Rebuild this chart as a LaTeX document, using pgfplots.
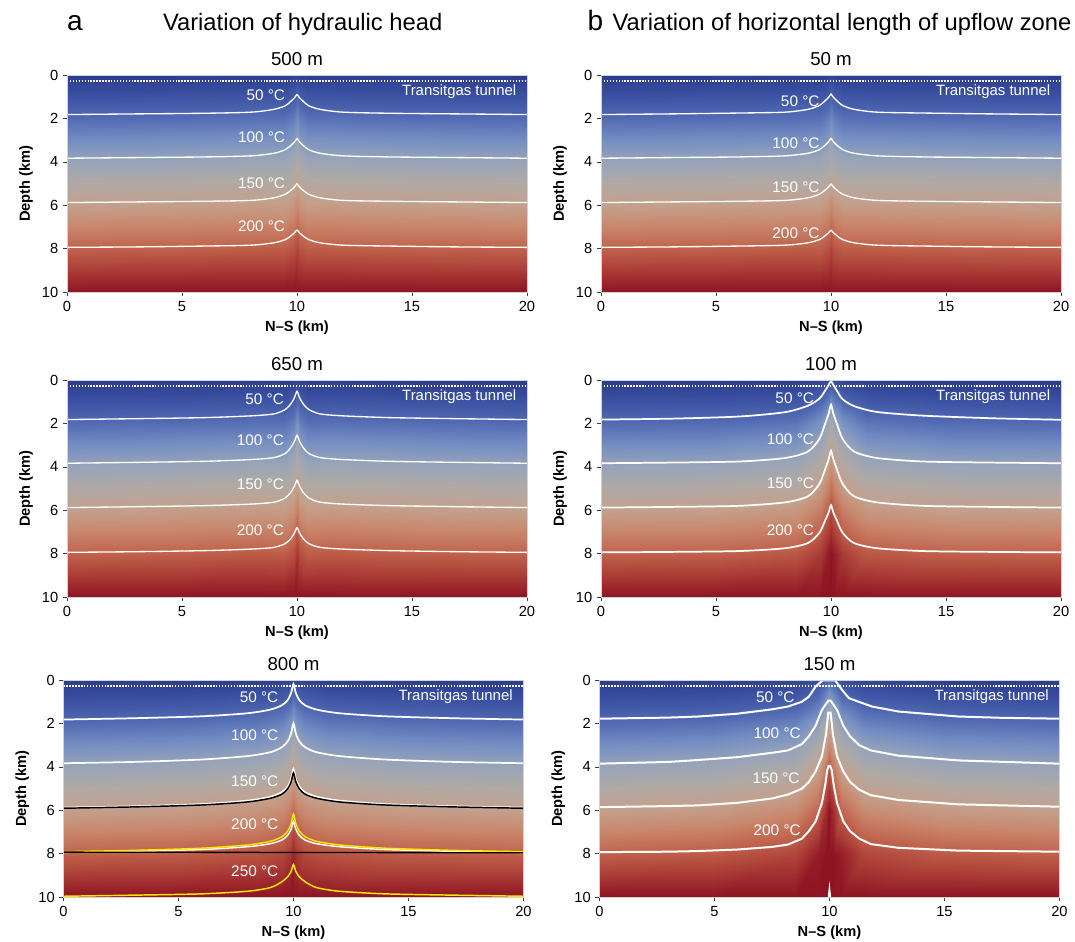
\documentclass[border=0pt]{standalone}
\usepackage{fontspec}
\setmainfont{Liberation Sans}
\usepackage{pgfplots}
\usepackage{pgfplotstable}
\pgfplotsset{compat=1.18}

% temperature colour scale, 4 C (top) to 254 C (10 km)
\pgfplotsset{
  colormap={temp}{
    rgb255=(44,60,142) rgb255=(60,82,163) rgb255=(82,106,178) rgb255=(116,142,195)
    rgb255=(152,164,184) rgb255=(176,169,165) rgb255=(196,160,140) rgb255=(200,134,108)
    rgb255=(192,98,76) rgb255=(170,60,54) rgb255=(142,20,35)
  },
  panel/.style={
    scale only axis, width=345pt, height=163pt,
    xmin=0, xmax=20, ymin=0, ymax=10, y dir=reverse,
    xtick={0,5,10,15,20}, ytick={0,2,4,6,8,10},
    tick align=outside, xtick pos=bottom, ytick pos=left,
    major tick length=3pt,
    tick style={black!75, line width=0.6pt},
    axis line style={gray!35, line width=0.5pt},
    axis on top,
    ticklabel style={font=\fontsize{11}{13}\selectfont},
    /pgf/number format/assume math mode=true,
    label style={font=\bfseries\fontsize{11}{13}\selectfont},
    xlabel={N--S (km)}, ylabel={Depth (km)},
    title style={font=\fontsize{14}{16}\selectfont, at={(0.5,1)}, anchor=base, yshift=1.5pt},
    colormap name=temp, point meta min=4, point meta max=254,
  },
  field/.style={surf, shader=interp, mesh/cols=11, point meta=explicit},
  iso/.style={white, line width=1pt, smooth, tension=0.45},
  tunnel/.style={white, line width=1.1pt, dash pattern=on 1.1pt off 1.1pt},
}
\tikzset{
  lbl/.style={white, anchor=east, font=\fontsize{11.5}{13}\selectfont, inner sep=1pt},
  tlbl/.style={white, anchor=east, font=\fontsize{11.2}{13}\selectfont, inner sep=1pt},
}

% temperature field (C) on a mesh, one column per panel
\pgfplotstableread{
x d Ta1 Ta2 Ta3 Tb1 Tb2 Tb3
0 0 4 4 4 4 4 4
5 0 4 5 5 4 4 6
8.5 0 5 6 7 5 6 13
9.5 0 5 5 9 5 13 25
9.85 0 8 9 12 8 20 42
10 0 12 14 16 12 24 52
10.15 0 8 9 12 8 20 42
10.5 0 5 5 9 5 13 25
11.5 0 5 6 7 5 6 13
15 0 4 5 5 4 4 6
20 0 4 4 4 4 4 4
0 0.5 16 16 16 16 16 16
5 0.5 17 17 18 17 17 20
8.5 0.5 19 20 23 19 21 28
9.5 0.5 19 18 29 19 34 45
9.85 0.5 25 26 37 25 48 67
10 0.5 32 36 47 32 56 79
10.15 0.5 25 26 37 25 48 67
10.5 0.5 19 18 29 19 34 45
11.5 0.5 19 20 23 19 21 28
15 0.5 17 17 18 17 17 20
20 0.5 16 16 16 16 16 16
0 2 54 54 54 54 54 54
5 2 55 56 57 55 55 58
8.5 2 58 59 63 57 62 70
9.5 2 58 58 71 58 83 93
9.85 2 66 68 82 66 106 124
10 2 77 85 96 76 119 142
10.15 2 66 68 82 66 106 124
10.5 2 58 58 71 58 83 93
11.5 2 58 59 63 57 62 70
15 2 55 56 57 55 55 58
20 2 54 54 54 54 54 54
0 4 104 104 104 104 104 104
5 4 105 106 107 105 105 109
8.5 4 108 109 114 107 112 123
9.5 4 108 108 122 108 134 151
9.85 4 116 119 134 116 158 188
10 4 127 136 149 126 172 209
10.15 4 116 119 134 116 158 188
10.5 4 108 108 122 108 134 151
11.5 4 108 109 114 107 112 123
15 4 105 106 107 105 105 109
20 4 104 104 104 104 104 104
0 6 154 154 154 154 154 154
5 6 155 156 157 155 155 159
8.5 6 158 159 164 157 162 173
9.5 6 157 158 172 157 183 201
9.85 6 165 168 183 165 206 238
10 6 175 185 198 175 219 259
10.15 6 165 168 183 165 206 238
10.5 6 157 158 172 157 183 201
11.5 6 158 159 164 157 162 173
15 6 155 156 157 155 155 159
20 6 154 154 154 154 154 154
0 8 204 204 204 204 204 204
5 8 205 205 206 205 205 209
8.5 8 207 209 213 207 211 222
9.5 8 207 207 220 207 229 248
9.85 8 214 217 231 214 248 282
10 8 224 233 244 224 259 302
10.15 8 214 217 231 214 248 282
10.5 8 207 207 220 207 229 248
11.5 8 207 209 213 207 211 222
15 8 205 205 206 205 205 209
20 8 204 204 204 204 204 204
0 10 254 254 254 254 254 254
5 10 255 255 256 255 255 258
8.5 10 257 258 262 257 260 270
9.5 10 257 257 269 257 277 293
9.85 10 264 267 278 264 294 324
10 10 274 281 290 274 304 342
10.15 10 264 267 278 264 294 324
10.5 10 257 257 269 257 277 293
11.5 10 257 258 262 257 260 270
15 10 255 255 256 255 255 258
20 10 254 254 254 254 254 254
}\Tfield

% isotherm depths (km)
\pgfplotstableread{
x i50 i100 i150 i200
0 1.82 3.83 5.87 7.93
3 1.79 3.80 5.84 7.91
6 1.76 3.77 5.81 7.87
8 1.71 3.72 5.77 7.83
9 1.58 3.60 5.65 7.72
9.5 1.41 3.43 5.48 7.57
9.75 1.19 3.22 5.29 7.39
9.9 1.04 3.07 5.14 7.25
10 0.90 2.93 5.01 7.13
10.1 1.04 3.07 5.14 7.25
10.25 1.19 3.22 5.29 7.39
10.5 1.41 3.43 5.48 7.57
11 1.58 3.60 5.65 7.72
12 1.71 3.72 5.77 7.83
14 1.76 3.77 5.81 7.87
17 1.79 3.80 5.84 7.91
20 1.82 3.83 5.87 7.93
}\isoAa

\pgfplotstableread{
x i50 i100 i150 i200
0 1.82 3.83 5.87 7.93
3 1.78 3.79 5.83 7.90
6 1.73 3.74 5.78 7.85
8 1.65 3.66 5.71 7.78
9 1.56 3.57 5.62 7.70
9.5 1.35 3.37 5.42 7.52
9.75 1.07 3.08 5.14 7.27
9.9 0.78 2.80 4.86 7.02
10 0.52 2.54 4.61 6.79
10.1 0.78 2.80 4.86 7.02
10.25 1.07 3.08 5.14 7.27
10.5 1.35 3.37 5.42 7.52
11 1.56 3.57 5.62 7.70
12 1.65 3.66 5.71 7.78
14 1.73 3.74 5.78 7.85
17 1.78 3.79 5.83 7.90
20 1.82 3.83 5.87 7.93
}\isoAb

\pgfplotstableread{
x i50 i100 i150 k150 i200 y200 y250
0 1.82 3.83 5.87 5.90 7.93 7.90 9.95
3 1.76 3.77 5.81 5.84 7.88 7.84 9.90
6 1.67 3.66 5.71 5.75 7.80 7.74 9.84
8 1.53 3.50 5.55 5.61 7.67 7.59 9.72
9 1.36 3.32 5.37 5.44 7.53 7.42 9.55
9.5 1.16 3.09 5.16 5.25 7.36 7.21 9.28
9.75 0.92 2.82 4.90 5.00 7.14 6.95 9.05
9.9 0.59 2.45 4.54 4.68 6.86 6.60 8.80
10 0.18 1.99 4.10 4.27 6.50 6.17 8.49
10.1 0.59 2.45 4.54 4.68 6.86 6.60 8.80
10.25 0.92 2.82 4.90 5.00 7.14 6.95 9.05
10.5 1.16 3.09 5.16 5.25 7.36 7.21 9.28
11 1.36 3.32 5.37 5.44 7.53 7.42 9.55
12 1.53 3.50 5.55 5.61 7.67 7.59 9.72
14 1.67 3.66 5.71 5.75 7.80 7.74 9.84
17 1.76 3.77 5.81 5.84 7.88 7.84 9.90
20 1.82 3.83 5.87 5.90 7.93 7.90 9.95
}\isoAc

\pgfplotstableread{
x i50 i100 i150 i200
0 1.82 3.83 5.87 7.93
3 1.79 3.80 5.84 7.91
6 1.75 3.77 5.81 7.87
8 1.71 3.72 5.77 7.83
9 1.58 3.60 5.65 7.72
9.5 1.40 3.43 5.48 7.57
9.75 1.18 3.22 5.29 7.39
9.9 1.02 3.07 5.14 7.25
10 0.88 2.92 5.02 7.14
10.1 1.02 3.07 5.14 7.25
10.25 1.18 3.22 5.29 7.39
10.5 1.40 3.43 5.48 7.57
11 1.58 3.60 5.65 7.72
12 1.71 3.72 5.77 7.83
14 1.75 3.77 5.81 7.87
17 1.79 3.80 5.84 7.91
20 1.82 3.83 5.87 7.93
}\isoBa

\pgfplotstableread{
x i50 i100 i150 i200
0 1.82 3.83 5.87 7.93
3 1.78 3.80 5.84 7.91
6 1.68 3.75 5.79 7.87
8 1.48 3.59 5.63 7.74
9 1.18 3.29 5.35 7.50
9.5 0.85 2.70 4.77 7.02
9.75 0.48 1.99 4.09 6.45
9.9 0.22 1.54 3.64 6.09
10 0.06 1.13 3.25 5.76
10.1 0.22 1.54 3.64 6.09
10.25 0.48 1.99 4.09 6.45
10.5 0.88 2.70 4.77 7.02
11 1.20 3.29 5.35 7.50
12 1.47 3.59 5.63 7.74
14 1.64 3.75 5.79 7.87
17 1.76 3.80 5.84 7.91
20 1.83 3.83 5.87 7.93
}\isoBb

\begin{document}
\begin{tikzpicture}
\path[use as bounding box] (0,0) rectangle (806.25pt,-706.5pt);

\node[anchor=base, font=\fontsize{21}{24}\selectfont] at (56.25pt,-23.25pt) {a};
\node[anchor=base, font=\fontsize{17.8}{20}\selectfont] at (227pt,-23.25pt) {Variation of hydraulic head};
\node[anchor=base, font=\fontsize{21}{24}\selectfont] at (446.6pt,-23.25pt) {b};
\node[anchor=base, font=\fontsize{17.8}{20}\selectfont] at (631.5pt,-23.25pt) {Variation of horizontal length of upflow zone};

% ---------- a, 500 m
\begin{axis}[panel, at={(50.25pt,-56.25pt)}, anchor=north west, title={500 m}]
\addplot[field] table[x=x, y=d, meta=Ta1] {\Tfield};
\addplot[tunnel] coordinates {(0,0.27) (20,0.27)};
\addplot[iso] table[x=x, y=i50] {\isoAa};
\addplot[iso] table[x=x, y=i100] {\isoAa};
\addplot[iso] table[x=x, y=i150] {\isoAa};
\addplot[iso] table[x=x, y=i200] {\isoAa};
\node[lbl] at (axis cs:9.55,0.92) {50 °C};
\node[lbl] at (axis cs:9.55,2.84) {100 °C};
\node[lbl] at (axis cs:9.55,4.96) {150 °C};
\node[lbl] at (axis cs:9.55,6.96) {200 °C};
\node[tlbl] at (axis cs:19.6,0.78) {Transitgas tunnel};
\end{axis}

% ---------- b, 50 m
\begin{axis}[panel, at={(450.75pt,-56.25pt)}, anchor=north west, title={50 m}]
\addplot[field] table[x=x, y=d, meta=Tb1] {\Tfield};
\addplot[tunnel] coordinates {(0,0.27) (20,0.27)};
\addplot[iso] table[x=x, y=i50] {\isoBa};
\addplot[iso] table[x=x, y=i100] {\isoBa};
\addplot[iso] table[x=x, y=i150] {\isoBa};
\addplot[iso] table[x=x, y=i200] {\isoBa};
\node[lbl] at (axis cs:9.57,1.2) {50 °C};
\node[lbl] at (axis cs:9.57,3.12) {100 °C};
\node[lbl] at (axis cs:9.57,5.15) {150 °C};
\node[lbl] at (axis cs:9.57,7.3) {200 °C};
\node[tlbl] at (axis cs:19.6,0.78) {Transitgas tunnel};
\end{axis}

% ---------- a, 650 m
\begin{axis}[panel, at={(50.25pt,-285pt)}, anchor=north west, title={650 m}]
\addplot[field] table[x=x, y=d, meta=Ta2] {\Tfield};
\addplot[tunnel] coordinates {(0,0.27) (20,0.27)};
\addplot[iso] table[x=x, y=i50] {\isoAb};
\addplot[iso] table[x=x, y=i100] {\isoAb};
\addplot[iso] table[x=x, y=i150] {\isoAb};
\addplot[iso] table[x=x, y=i200] {\isoAb};
\node[lbl] at (axis cs:9.5,0.88) {50 °C};
\node[lbl] at (axis cs:9.5,2.76) {100 °C};
\node[lbl] at (axis cs:9.5,4.81) {150 °C};
\node[lbl] at (axis cs:9.5,6.91) {200 °C};
\node[tlbl] at (axis cs:19.6,0.78) {Transitgas tunnel};
\end{axis}

% ---------- b, 100 m
\begin{axis}[panel, at={(450.75pt,-285pt)}, anchor=north west, title={100 m}]
\addplot[field] table[x=x, y=d, meta=Tb2] {\Tfield};
\addplot[tunnel] coordinates {(0,0.27) (20,0.27)};
\addplot[iso, line width=1.3pt] table[x=x, y=i50] {\isoBb};
\addplot[iso, line width=1.3pt] table[x=x, y=i100] {\isoBb};
\addplot[iso, line width=1.3pt] table[x=x, y=i150] {\isoBb};
\addplot[iso, line width=1.3pt] table[x=x, y=i200] {\isoBb};
\node[lbl] at (axis cs:9.33,0.84) {50 °C};
\node[lbl] at (axis cs:9.33,2.72) {100 °C};
\node[lbl] at (axis cs:9.33,4.76) {150 °C};
\node[lbl] at (axis cs:9.33,6.91) {200 °C};
\node[tlbl] at (axis cs:19.6,0.78) {Transitgas tunnel};
\end{axis}

% ---------- a, 800 m
\begin{axis}[panel, at={(47.6pt,-510pt)}, anchor=north west, title={800 m}]
\addplot[field] table[x=x, y=d, meta=Ta3] {\Tfield};
\addplot[tunnel] coordinates {(0,0.27) (20,0.27)};
\addplot[iso, line width=1.3pt] table[x=x, y=i50] {\isoAc};
\addplot[iso, line width=1.3pt] table[x=x, y=i100] {\isoAc};
\addplot[iso, line width=1.3pt] table[x=x, y=i150] {\isoAc};
\addplot[iso, black, line width=1.1pt] table[x=x, y=k150] {\isoAc};
\addplot[iso, line width=1.1pt] table[x=x, y=i200] {\isoAc};
\addplot[iso, yellow!90!orange, line width=1.1pt] table[x=x, y=y200] {\isoAc};
\addplot[black, line width=1pt] coordinates {(0,7.92) (20,7.95)};
\addplot[iso, yellow!90!orange, line width=1.1pt] table[x=x, y=y250] {\isoAc};
\node[lbl] at (axis cs:9.41,0.77) {50 °C};
\node[lbl] at (axis cs:9.41,2.52) {100 °C};
\node[lbl] at (axis cs:9.41,4.66) {150 °C};
\node[lbl] at (axis cs:9.41,6.65) {200 °C};
\node[lbl] at (axis cs:9.41,8.8) {250 °C};
\node[tlbl] at (axis cs:19.6,0.78) {Transitgas tunnel};
\end{axis}

% ---------- b, 150 m
\begin{axis}[panel, at={(449.6pt,-510pt)}, anchor=north west, title={150 m}]
\addplot[field] table[x=x, y=d, meta=Tb3] {\Tfield};
\addplot[tunnel] coordinates {(0,0.27) (20,0.27)};
\addplot[white, line width=1.5pt] coordinates {(0,1.78)(3,1.73)(4.3,1.68)(6,1.55)(7.5,1.35)(8.2,1.22)(8.8,1.0)(9.1,0.77)(9.4,0.3)(9.7,0.02)(10.25,0.02)(10.55,0.46)(10.85,0.84)(11.85,1.22)(13,1.45)(15.6,1.68)(17.5,1.74)(20,1.78)};
\addplot[white, line width=1.5pt] coordinates {(0,3.85)(3,3.77)(4.3,3.68)(6,3.55)(7.5,3.35)(8.2,3.24)(8.8,2.95)(9.1,2.6)(9.4,2.1)(9.67,1.38)(9.85,1.1)(9.95,0.95)(10.05,0.95)(10.15,1.1)(10.33,1.38)(10.6,2.1)(10.9,2.6)(11.3,3.0)(11.8,3.24)(13,3.48)(15.6,3.7)(20,3.85)};
\addplot[white, line width=1.5pt] coordinates {(0,5.85)(3,5.8)(4.3,5.77)(6,5.65)(7.5,5.45)(8.2,5.27)(8.8,5.0)(9.1,4.7)(9.4,4.2)(9.67,3.52)(9.85,2.5)(9.95,1.5)(10.05,1.5)(10.15,2.5)(10.33,3.52)(10.6,4.2)(10.9,4.7)(11.3,5.05)(11.8,5.3)(13,5.52)(15.6,5.72)(20,5.83)};
\addplot[white, line width=1.5pt] coordinates {(0,7.92)(3,7.9)(4.3,7.87)(6,7.8)(7.5,7.68)(8.2,7.57)(8.8,7.3)(9.1,6.96)(9.4,6.5)(9.67,5.66)(9.82,4.8)(9.9,4.15)(9.97,3.95)(10.03,3.95)(10.1,4.15)(10.18,4.8)(10.33,5.66)(10.6,6.5)(10.9,6.96)(11.3,7.3)(11.8,7.55)(13,7.72)(15.6,7.85)(20,7.9)};
\addplot[white, line width=1.2pt] coordinates {(9.96,10)(10,9.6)(10.04,10)};
\node[lbl] at (axis cs:8.55,0.8) {50 °C};
\node[lbl] at (axis cs:8.82,2.45) {100 °C};
\node[lbl] at (axis cs:8.77,4.51) {150 °C};
\node[lbl] at (axis cs:8.82,6.93) {200 °C};
\node[tlbl] at (axis cs:19.6,0.78) {Transitgas tunnel};
\end{axis}
\end{tikzpicture}
\end{document}
